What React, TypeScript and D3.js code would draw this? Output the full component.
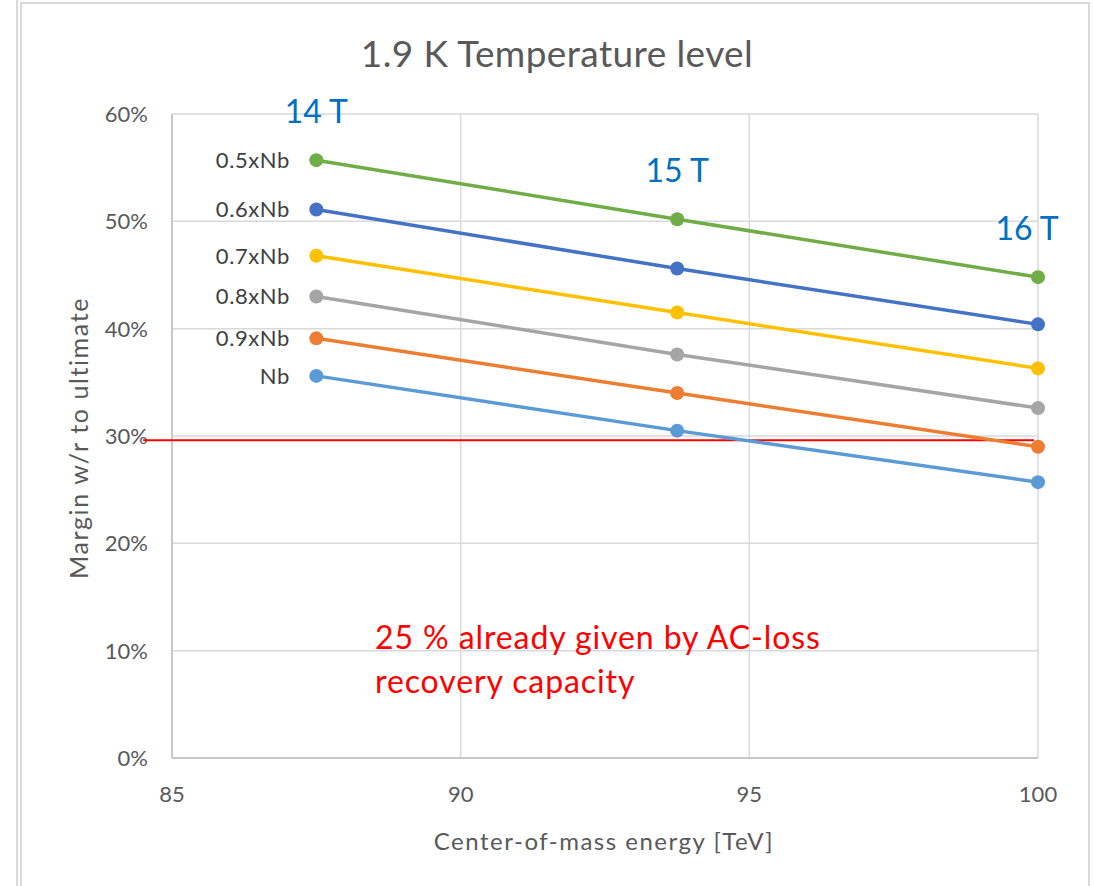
import React from "react";
import * as d3 from "d3";

const energies = [87.5, 93.75, 100];
const fieldLabels = ["14 T", "15 T", "16 T"];
const seriesNames = ["0.5xNb", "0.6xNb", "0.7xNb", "0.8xNb", "0.9xNb", "Nb"];
const seriesColors = ["#70AD47", "#4472C4", "#FFC000", "#A5A5A5", "#ED7D31", "#5B9BD5"];
const s05 = [0.557, 0.502, 0.448];
const s06 = [0.511, 0.456, 0.404];
const s07 = [0.468, 0.415, 0.363];
const s08 = [0.43, 0.376, 0.326];
const s09 = [0.391, 0.34, 0.29];
const sNb = [0.356, 0.305, 0.257];
const seriesValues = [s05, s06, s07, s08, s09, sNb];
const xTicks = [85, 90, 95, 100];
const yTicks = [0, 0.1, 0.2, 0.3, 0.4, 0.5, 0.6];
const thresholdValue = 0.296;
const thresholdRange = [84.5, 99.93];
const annotationLines = ["25 % already given by AC-loss", "recovery capacity"];

const W = 1094;
const H = 886;
const plot = { left: 172, right: 1038, top: 114, bottom: 758 };
const FONT = "Lato, 'Open Sans', sans-serif";
const TXT = "#595959";

export default function App() {
  const x = d3.scaleLinear().domain([85, 100]).range([plot.left, plot.right]);
  const y = d3.scaleLinear().domain([0, 0.6]).range([plot.bottom, plot.top]);
  const line = d3
    .line<number>()
    .x((_, i) => x(energies[i]))
    .y((d) => y(d));
  const pct = d3.format(".0%");
  const top = seriesValues[0];

  return (
    <svg
      width={W}
      height={H}
      style={{ position: "absolute", left: 0, top: 0, background: "#fff" }}
      fontFamily={FONT}
    >
      <rect x={0} y={0} width={W} height={H} fill="#fff" />
      <line x1={17} x2={17} y1={0} y2={H} stroke="#d9d9d9" strokeWidth={2} />
      <rect x={21} y={3} width={1068} height={H + 10} fill="#fff" stroke="#d9d9d9" strokeWidth={2} />

      <text x={557} y={67} textAnchor="middle" fontSize={37} letterSpacing={0.4} fill={TXT}>
        1.9 K Temperature level
      </text>

      {/* gridlines */}
      {yTicks.map((t) => (
        <line key={"gy" + t} x1={plot.left} x2={plot.right} y1={y(t)} y2={y(t)} stroke="#d9d9d9" strokeWidth={1.5} />
      ))}
      {xTicks.map((t) => (
        <line key={"gx" + t} x1={x(t)} x2={x(t)} y1={plot.top} y2={plot.bottom} stroke="#d9d9d9" strokeWidth={1.5} />
      ))}
      {/* axes */}
      <line x1={plot.left} x2={plot.left} y1={plot.top} y2={plot.bottom} stroke="#bfbfbf" strokeWidth={1.5} />
      <line x1={plot.left} x2={plot.right} y1={plot.bottom} y2={plot.bottom} stroke="#bfbfbf" strokeWidth={1.5} />

      {yTicks.map((t) => (
        <text key={"ty" + t} x={148} y={y(t)} dy="0.36em" textAnchor="end" fontSize={22} fill={TXT}>
          {pct(t)}
        </text>
      ))}
      {xTicks.map((t) => (
        <text key={"tx" + t} x={x(t)} y={802} textAnchor="middle" fontSize={22} fill={TXT}>
          {t}
        </text>
      ))}

      <text x={604} y={850} textAnchor="middle" fontSize={24} letterSpacing={1.5} fill={TXT}>
        Center-of-mass energy [TeV]
      </text>
      <text
        transform={`translate(88,438) rotate(-90)`}
        textAnchor="middle"
        fontSize={25}
        letterSpacing={1.6}
        fill={TXT}
      >
        Margin w/r to ultimate
      </text>

      {/* threshold */}
      <line
        x1={x(thresholdRange[0])}
        x2={x(thresholdRange[1])}
        y1={y(thresholdValue)}
        y2={y(thresholdValue)}
        stroke="#ff0000"
        strokeWidth={2}
      />

      {/* series */}
      {seriesValues.map((vals, si) => (
        <g key={seriesNames[si]}>
          <path d={line(vals) || ""} fill="none" stroke={seriesColors[si]} strokeWidth={3.5} />
          {vals.map((v, i) => (
            <circle key={i} cx={x(energies[i])} cy={y(v)} r={7} fill={seriesColors[si]} />
          ))}
          <text x={290} y={y(vals[0])} dy="0.36em" textAnchor="end" fontSize={22} letterSpacing={0.6} fill="#404040">
            {seriesNames[si]}
          </text>
        </g>
      ))}

      {/* field labels */}
      {fieldLabels.map((l, i) => (
        <text
          key={l}
          x={Math.min(x(energies[i]), 1027)}
          y={y(top[i]) - 37}
          textAnchor="middle"
          fontSize={32}
          fill="#0070C0"
        >
          {l}
        </text>
      ))}

      {annotationLines.map((l, i) => (
        <text key={l} x={375} y={649 + i * 44} fontSize={32} letterSpacing={0.9} fill="#ff0000">
          {l}
        </text>
      ))}
    </svg>
  );
}
